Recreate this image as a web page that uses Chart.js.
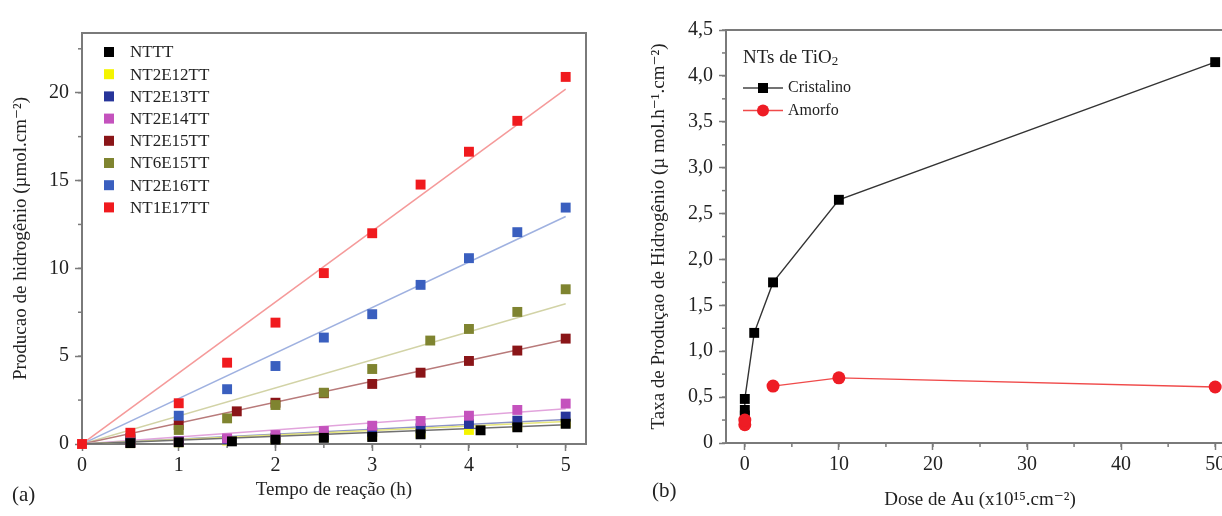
<!DOCTYPE html>
<html>
<head>
<meta charset="utf-8">
<script src="https://cdn.jsdelivr.net/npm/chart.js@4.4.1/dist/chart.umd.min.js"></script>
<style>
  html, body { margin: 0; padding: 0; background: #fff; overflow: hidden; width: 1222px; height: 516px; }
  #left { position: absolute; left: 0; top: 0; }
  #right { position: absolute; left: 600px; top: 0; }
</style>
</head>
<body>
<canvas id="left" width="610" height="516"></canvas>
<canvas id="right" width="700" height="516"></canvas>
<script>
// (a) hydrogen produced vs reaction time
const samples = ['NTTT', 'NT2E12TT', 'NT2E13TT', 'NT2E14TT', 'NT2E15TT', 'NT6E15TT', 'NT2E16TT', 'NT1E17TT']
const tStd      = [0.5, 1, 1.5, 2, 2.5, 3, 3.5, 4, 4.5, 5]
const tNTTT     = [0.5, 1, 1.55, 2, 2.5, 3, 3.5, 4.12, 4.5, 5]
const tNT2E15TT = [0.5, 1, 1.6, 2, 2.5, 3, 3.5, 4, 4.5, 5]
const tNT6E15TT = [0.5, 1, 1.5, 2, 2.5, 3, 3.6, 4, 4.5, 5]
const tNT1E17TT = [0, 0.5, 1, 1.5, 2, 2.5, 3, 3.5, 4, 4.5, 5]

const h2NTTT     = [0.05, 0.1, 0.15, 0.25, 0.35, 0.4, 0.55, 0.78, 0.95, 1.15]
const h2NT2E12TT = [0.05, 0.1, 0.2, 0.3, 0.4, 0.5, 0.63, 0.8, 1.05, 1.22]
const h2NT2E13TT = [0.08, 0.15, 0.25, 0.35, 0.5, 0.7, 0.89, 1.14, 1.33, 1.56]
const h2NT2E14TT = [0.1, 0.15, 0.32, 0.51, 0.74, 1.04, 1.31, 1.61, 1.94, 2.3]
const h2NT2E15TT = [0.25, 1.08, 1.86, 2.35, 2.89, 3.42, 4.06, 4.73, 5.32, 6.0]
const h2NT6E15TT = [0.3, 0.8, 1.46, 2.22, 2.92, 4.27, 5.89, 6.55, 7.52, 8.81]
const h2NT2E16TT = [0.34, 1.61, 3.12, 4.44, 6.06, 7.39, 9.06, 10.58, 12.06, 13.46]
const h2NT1E17TT = [0, 0.64, 2.32, 4.63, 6.91, 9.73, 12.0, 14.77, 16.64, 18.4, 20.9]

// linear fits through the origin, value read at t = 5 h
const fitT = [0, 5]
const fitEnd = [1.1, 1.28, 1.4, 2.0, 5.95, 7.98, 12.95, 20.2]

const xTicksA = [0, 1, 2, 3, 4, 5]
const yTicksA = [0, 5, 10, 15, 20]

// (b) production rate vs Au dose
const doseCrist = [0, 0, 0, 1, 3, 10, 50]
const rateCrist = [0.3, 0.36, 0.48, 1.2, 1.75, 2.65, 4.15]
const doseAmorf = [0, 0, 3, 10, 50]
const rateAmorf = [0.2, 0.25, 0.62, 0.71, 0.61]

const colors = ['#000000', '#f4f400', '#27359a', '#c452bd', '#8a1518', '#7f8430', '#3a5fbf', '#f01a1e']
const fitColors = ['#707070', '#e6e67a', '#8c93c6', '#e2a4dc', '#b87a7a', '#d2d3a6', '#9fb1e0', '#f59a9a']

const axisColor = '#7a7a7a'
const serif = "'Liberation Serif', 'DejaVu Serif', serif"

function pts(xs, ys) { return xs.map((x, i) => ({ x: x, y: ys[i] })) }

// frame around the plot area and short minor ticks
const framePlugin = {
  id: 'frame',
  beforeDatasetsDraw(chart) {
    const { ctx, chartArea: a } = chart
    ctx.save()
    ctx.strokeStyle = axisColor
    ctx.lineWidth = 2
    ctx.strokeRect(a.left, a.top, a.right - a.left, a.bottom - a.top)
    const minor = chart.options.plugins.frame || {}
    ctx.lineWidth = 1.5
    ;['x', 'y'].forEach(id => {
      const s = chart.scales[id], step = minor[id]
      if (!step) return
      for (let v = Math.ceil(s.min / step) * step; v <= s.max + 1e-9; v += step) {
        const p = s.getPixelForValue(v)
        ctx.beginPath()
        if (id === 'x') { ctx.moveTo(p, a.bottom); ctx.lineTo(p, a.bottom + 4) }
        else { ctx.moveTo(a.left, p); ctx.lineTo(a.left - 4, p) }
        ctx.stroke()
      }
    })
    ctx.restore()
  }
}

const legendA = {
  id: 'legendA',
  afterDraw(chart) {
    const ctx = chart.ctx
    ctx.save()
    ctx.font = '17px ' + serif
    ctx.textBaseline = 'middle'
    samples.forEach((name, i) => {
      const y = 52 + i * 22.2
      ctx.fillStyle = colors[i]
      ctx.fillRect(104, y - 5, 10, 10)
      ctx.fillStyle = '#222'
      ctx.fillText(name, 130, y + 1)
    })
    ctx.font = '21px ' + serif
    ctx.fillText('(a)', 12, 495)
    ctx.restore()
  }
}

const legendB = {
  id: 'legendB',
  afterDraw(chart) {
    const ctx = chart.ctx
    const ox = 143
    ctx.save()
    ctx.fillStyle = '#222'
    ctx.textBaseline = 'alphabetic'
    ctx.font = '19px ' + serif
    ctx.fillText('NTs de TiO', ox, 63)
    const w = ctx.measureText('NTs de TiO').width
    ctx.font = '13px ' + serif
    ctx.fillText('2', ox + w, 65)
    const rows = [['Cristalino', '#222', 88], ['Amorfo', '#ee1c25', 110.5]]
    rows.forEach((r, i) => {
      ctx.strokeStyle = i ? '#f04a4a' : '#444'
      ctx.lineWidth = 1.3
      ctx.beginPath(); ctx.moveTo(ox, r[2]); ctx.lineTo(ox + 40, r[2]); ctx.stroke()
      ctx.fillStyle = i ? '#ee1c25' : '#000'
      if (i) { ctx.beginPath(); ctx.arc(ox + 20, r[2], 6, 0, Math.PI * 2); ctx.fill() }
      else ctx.fillRect(ox + 15, r[2] - 5, 10, 10)
      ctx.fillStyle = '#222'
      ctx.font = '16px ' + serif
      ctx.textBaseline = 'middle'
      ctx.fillText(r[0], ox + 45, r[2])
    })
    ctx.font = '21px ' + serif
    ctx.textBaseline = 'alphabetic'
    ctx.fillText('(b)', 52, 497)
    ctx.restore()
  }
}

function axis(min, max, step, titleText, titlePad, labelFn, fitSize, horizontal) {
  return {
    type: 'linear',
    min: min,
    max: max,
    border: { display: true, color: axisColor, width: 2 },
    grid: { display: true, drawOnChartArea: false, drawTicks: true, tickLength: 7, tickColor: axisColor, tickWidth: 1.5 },
    ticks: {
      stepSize: step,
      includeBounds: false,
      color: '#222',
      font: { family: serif, size: 20 },
      padding: horizontal ? 3 : 6,
      maxRotation: 0,
      callback: labelFn
    },
    title: { display: true, text: titleText, color: '#222', font: { family: serif, size: 19 }, padding: titlePad },
    afterFit(s) { if (horizontal) s.height = fitSize; else s.width = fitSize }
  }
}

// left chart
const dsA = []
const timesA = [tNTTT, tStd, tStd, tStd, tNT2E15TT, tNT6E15TT, tStd, tNT1E17TT]
const valsA = [h2NTTT, h2NT2E12TT, h2NT2E13TT, h2NT2E14TT, h2NT2E15TT, h2NT6E15TT, h2NT2E16TT, h2NT1E17TT]
samples.forEach((name, i) => {
  dsA.push({
    label: name + ' fit',
    data: pts(fitT, [0, fitEnd[i]]),
    showLine: true,
    borderColor: fitColors[i],
    borderWidth: 1.5,
    pointRadius: 0,
    order: 20
  })
})
samples.forEach((name, i) => {
  dsA.push({
    label: name,
    data: pts(timesA[i], valsA[i]),
    showLine: false,
    pointStyle: 'rect',
    pointRadius: 7,
    pointBorderWidth: 0,
    backgroundColor: colors[i],
    borderColor: colors[i],
    clip: false,
    order: i === 0 ? 0 : 10 - i
  })
})

new Chart(document.getElementById('left'), {
  type: 'scatter',
  data: { datasets: dsA },
  options: {
    responsive: false,
    animation: false,
    events: [],
    layout: { padding: { left: 0, top: 33, right: 24, bottom: 0 } },
    plugins: { legend: { display: false }, tooltip: { enabled: false }, frame: { x: 0.5, y: 2.5 } },
    scales: {
      x: axis(0, 5.21, 1, 'Tempo de reação (h)', { top: 0, bottom: 15 },
        v => xTicksA.includes(v) ? String(v) : '', 72, true),
      y: axis(0, 23.4, 5, 'Producao de hidrogênio (µmol.cm⁻²)', { top: 10, bottom: 0 },
        v => yTicksA.includes(v) ? String(v) : '', 82, false)
    }
  },
  plugins: [framePlugin, legendA]
})

// right chart
new Chart(document.getElementById('right'), {
  type: 'scatter',
  data: {
    datasets: [
      {
        label: 'Cristalino',
        data: pts(doseCrist, rateCrist),
        showLine: true,
        borderColor: '#333',
        borderWidth: 1.4,
        pointStyle: 'rect',
        pointRadius: 7,
        pointBorderWidth: 0,
        backgroundColor: '#000',
        order: 1
      },
      {
        label: 'Amorfo',
        data: pts(doseAmorf, rateAmorf),
        showLine: true,
        borderColor: '#f04a4a',
        segment: { borderColor: c => c.p0DataIndex < 2 ? 'rgba(0,0,0,0)' : '#f04a4a' },
        borderWidth: 1.4,
        pointStyle: 'circle',
        pointRadius: 6.5,
        pointBorderWidth: 0,
        backgroundColor: '#ee1c25',
        order: 0
      }
    ]
  },
  options: {
    responsive: false,
    animation: false,
    events: [],
    layout: { padding: { left: 0, top: 30, right: 66, bottom: 0 } },
    plugins: { legend: { display: false }, tooltip: { enabled: false }, frame: { x: 5, y: 0.25 } },
    scales: {
      x: axis(-2, 52, 10, 'Dose de Au (x10¹⁵.cm⁻²)', { top: 0, bottom: 5 },
        v => String(v), 73, true),
      y: axis(0, 4.5, 0.5, 'Taxa de Produçao de Hidrogênio (µ mol.h⁻¹.cm⁻²)', { top: 48, bottom: 0 },
        v => v === 0 ? '0' : v.toFixed(1).replace('.', ','), 126, false)
    }
  },
  plugins: [framePlugin, legendB]
})
</script>
</body>
</html>
